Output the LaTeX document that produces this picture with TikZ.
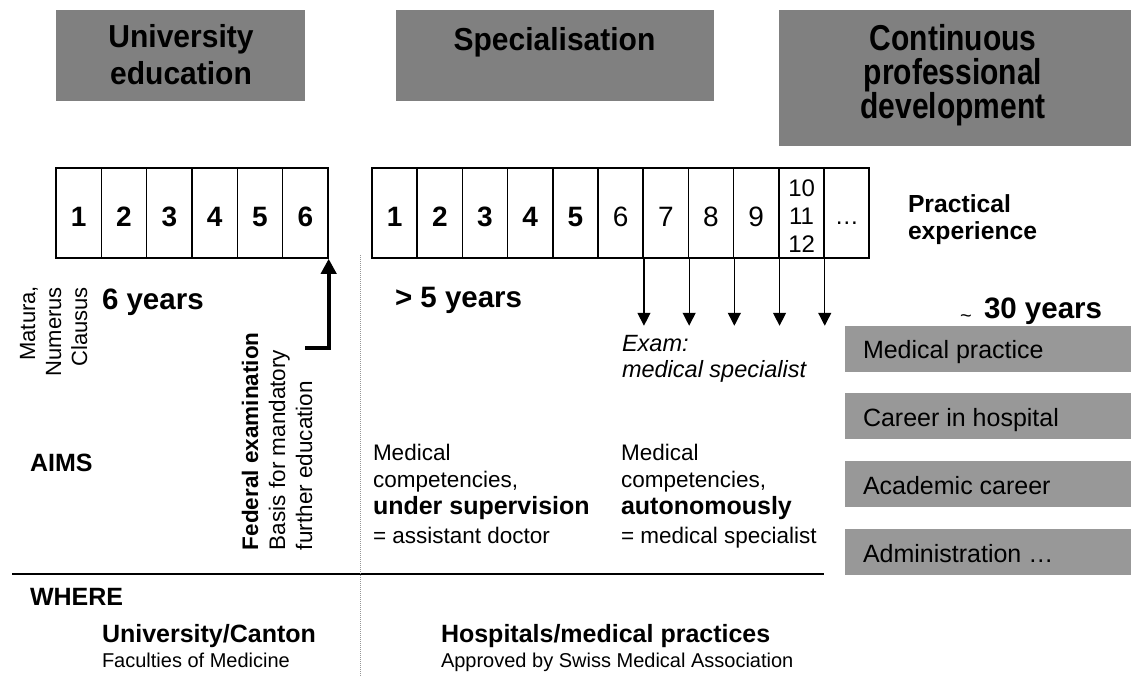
\documentclass[tikz,border=0pt]{standalone}
\usepackage{fontspec}
\usepackage{graphicx}
\setmainfont{Liberation Sans}
\usetikzlibrary{arrows.meta,calc}

\definecolor{headgray}{RGB}{128,128,128}
\definecolor{boxgray}{RGB}{152,152,152}
\definecolor{dotgray}{RGB}{150,150,150}

\newcommand{\fsz}[2]{\fontsize{#1}{#2}\selectfont}
% header lettering is set slightly taller than the plain font
\newcommand{\tall}[2]{\scalebox{1}[#1]{#2}}

\begin{document}
\begin{tikzpicture}[x=1pt,y=-1pt,
  txt/.style={inner sep=0pt, outer sep=0pt, font=\fsz{22.5}{27}},
  btxt/.style={txt, font=\fsz{25}{30}\bfseries},
  bigtxt/.style={txt, font=\fsz{29.5}{34}\bfseries},
  headbox/.style={fill=headgray, draw=none, inner sep=0pt, anchor=north west},
  headtxt/.style={inner sep=0pt, font=\fsz{30}{34}\bfseries, anchor=base},
  sidebox/.style={fill=boxgray, draw=none, inner sep=0pt, anchor=north west,
                  minimum width=286pt, minimum height=46pt},
  sidetxt/.style={txt, font=\fsz{25}{30}, anchor=base west},
  cell/.style={draw=black, line width=1.5pt, minimum width=45.2pt,
               minimum height=90pt, inner sep=0pt},
  digit/.style={inner sep=0pt, font=\fsz{28}{30}, anchor=base},
  examarrow/.style={line width=1.3pt, -{Triangle[width=13pt,length=13pt]}},
  fedarrow/.style={line width=4pt, -{Triangle[width=15pt,length=15pt]}},
]
\useasboundingbox (0,0) rectangle (1131,677);

% ---- phase headers ----
\node[headbox, minimum width=249pt, minimum height=91pt] (hUni) at (56,10) {};
\node[headtxt] (hUniA) at (181,48) {\tall{1.06}{University}};
\node[headtxt] (hUniB) at (181,84) {\tall{1.06}{education}};

\node[headbox, minimum width=317.5pt, minimum height=91pt] (hSpec) at (396,10) {};
\node[headtxt] (hSpecA) at (554.5,50) {\tall{1.06}{Specialisation}};

\node[headbox, minimum width=352pt, minimum height=136pt] (hCpd) at (779,10) {};
\node[headtxt] (hCpdA) at (953,50) {\tall{1.2}{Continuous}};
\node[headtxt] (hCpdB) at (953,84) {\tall{1.2}{professional}};
\node[headtxt] (hCpdC) at (953,118) {\tall{1.2}{development}};

% ---- study years ----
\foreach \i in {1,...,6} {
  \node[cell] (l\i) at ({56+45.33*(\i-0.5)},213) {};
  \node[digit, font=\fsz{28}{30}\bfseries] (dl\i) at ({56+45.33*(\i-0.5)},226) {\i};
}

% ---- specialisation years ----
\foreach \i in {1,...,11} {
  \node[cell] (r\i) at ({372+45.2*(\i-0.5)},213) {};
}
\foreach \i in {1,...,5} {
  \node[digit, font=\fsz{28}{30}\bfseries] (dr\i) at ({372+45.2*(\i-0.5)},226) {\i};
}
\foreach \i in {6,...,9} {
  \node[digit] (dr\i) at ({372+45.2*(\i-0.5)},226) {\i};
}
\node[digit, font=\fsz{24}{28}] (dr10a) at (801.6,196.5) {10};
\node[digit, font=\fsz{24}{28}] (dr10b) at (801.6,224.5) {11};
\node[digit, font=\fsz{24}{28}] (dr10c) at (801.6,252.5) {12};
\node[digit, font=\fsz{24}{28}] (dr11) at (846.8,224) {\ldots};

\node[txt, font=\fsz{24.7}{27}\bfseries, anchor=base west] (pracA) at (908,212) {Practical};
\node[txt, font=\fsz{24.7}{27}\bfseries, anchor=base west] (pracB) at (908,239) {experience};

% ---- exam arrows ----
\foreach \j/\k in {6/1,7/2,8/3,9/4,10/5} {
  \coordinate (tip\k) at ($(r\j.south east)+(0,67)$);
}
\foreach \j/\k in {6/1,7/2,8/3,9/4,10/5} {
  \draw[examarrow] (r\j.south east) -- (tip\k);
}

% ---- durations ----
\node[bigtxt, anchor=base west] (dur1) at (102,309) {6 years};
\node[bigtxt, anchor=base west] (dur2) at (395,307) {> 5 years};
\node[txt, font=\fsz{20}{20}, anchor=base west] (dur3t) at (960,322) {\textasciitilde};
\node[bigtxt, anchor=base west] (dur3) at (984,318) {30 years};

% ---- admission ----
\node[txt, font=\fsz{22}{26}, rotate=90, anchor=base east] (mat1) at (35,286) {Matura,};
\node[txt, font=\fsz{22}{26}, rotate=90, anchor=base east] (mat2) at (61,287) {Numerus};
\node[txt, font=\fsz{22}{26}, rotate=90, anchor=base east] (mat3) at (87,287) {Clausus};

% ---- federal examination ----
\node[txt, font=\fsz{22.5}{27}\bfseries, rotate=90, anchor=base west] (fed1) at (258,550) {Federal examination};
\node[txt, rotate=90, anchor=base west] (fed2) at (285,550) {Basis for mandatory};
\node[txt, rotate=90, anchor=base west] (fed3) at (312,550) {further education};
\coordinate (fedfoot) at (305,348);
\draw[fedarrow] (fedfoot) -| (l6.south east);

% ---- exam label ----
\node[txt, font=\fsz{23.5}{27}\itshape, anchor=base west] (exA) at (622,351) {Exam:};
\node[txt, font=\fsz{23.5}{27}\itshape, anchor=base west] (exB) at (622,377) {medical specialist};

% ---- aims ----
\node[btxt, anchor=base west] (aims) at (30,471) {AIMS};

\node[txt, anchor=base west] (supA) at (373,460) {Medical};
\node[txt, anchor=base west] (supB) at (373,487) {competencies,};
\node[btxt, anchor=base west] (supC) at (373,514) {under supervision};
\node[txt, anchor=base west] (supD) at (373,543) {= assistant doctor};

\node[txt, anchor=base west] (autA) at (621,460) {Medical};
\node[txt, anchor=base west] (autB) at (621,487) {competencies,};
\node[btxt, anchor=base west] (autC) at (621,514) {autonomously};
\node[txt, anchor=base west] (autD) at (621,543) {= medical specialist};

% ---- career paths ----
\node[sidebox] (c1) at (845,326) {};
\node[sidetxt] (c1t) at (863,358) {Medical practice};
\node[sidebox] (c2) at (845,393) {};
\node[sidetxt] (c2t) at (863,426) {Career in hospital};
\node[sidebox] (c3) at (845,461) {};
\node[sidetxt] (c3t) at (863,494) {Academic career};
\node[sidebox] (c4) at (845,529) {};
\node[sidetxt] (c4t) at (863,562) {Administration \ldots};

% ---- separators ----
\coordinate (ruleL) at (12,574);
\coordinate (ruleR) at (824,574);
\draw[line width=1.5pt] (ruleL) -- (ruleR);
\coordinate (sepT) at (360.7,255);
\coordinate (sepB) at (360.7,677);
\draw[dotgray, line width=0.9pt, dash pattern=on 1pt off 1pt] (sepT) -- (sepB);

% ---- where ----
\node[btxt, anchor=base west] (where) at (30,605) {WHERE};
\node[btxt, anchor=base west] (uniC) at (102,642) {University/Canton};
\node[txt, font=\fsz{20}{24}, anchor=base west] (uniF) at (102,667) {Faculties of Medicine};
\node[btxt, anchor=base west] (hosC) at (441,642) {Hospitals/medical practices};
\node[txt, font=\fsz{20}{24}, anchor=base west] (hosF) at (441,667) {Approved by Swiss Medical Association};
\end{tikzpicture}
\end{document}
